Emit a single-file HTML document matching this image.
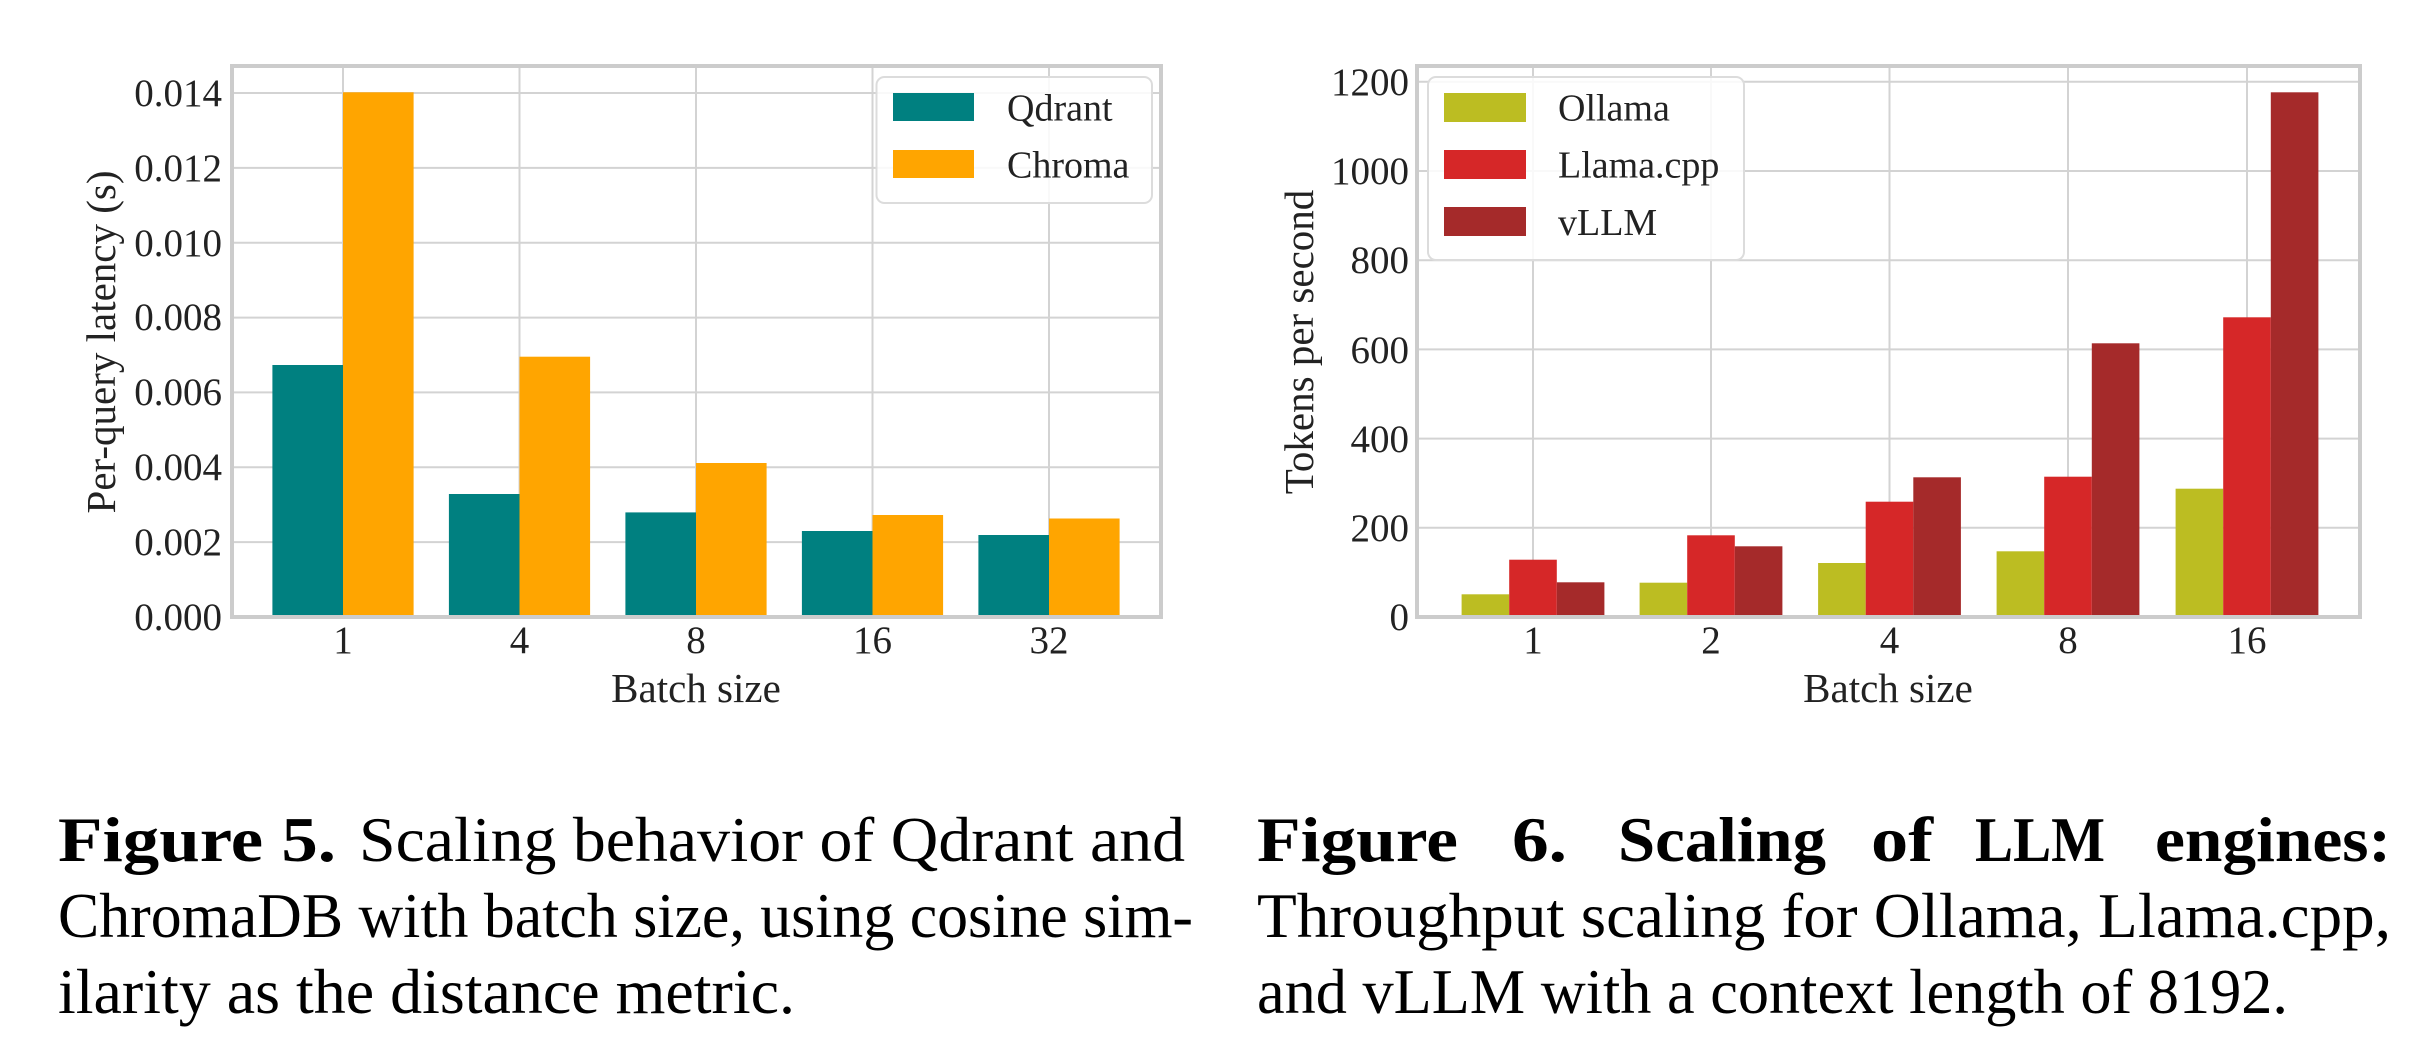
<!DOCTYPE html>
<html><head><meta charset="utf-8"><style>
html,body{margin:0;padding:0;background:#fff;}
svg{display:block;font-family:"Liberation Serif","Times New Roman",Times,serif;}
svg text{font-family:"Liberation Serif","Times New Roman",Times,serif;}
</style></head><body>
<svg width="2422" height="1057" viewBox="0 0 2422 1057" xmlns="http://www.w3.org/2000/svg" font-family="Liberation Serif, Times New Roman, serif">
<rect width="2422" height="1057" fill="#fff"/>
<!-- LEFT CHART -->
<g stroke="#d3d3d3" stroke-width="2">
<line x1="232" y1="617" x2="1161" y2="617"/>
<line x1="232" y1="542.1" x2="1161" y2="542.1"/>
<line x1="232" y1="467.3" x2="1161" y2="467.3"/>
<line x1="232" y1="392.4" x2="1161" y2="392.4"/>
<line x1="232" y1="317.6" x2="1161" y2="317.6"/>
<line x1="232" y1="242.7" x2="1161" y2="242.7"/>
<line x1="232" y1="167.9" x2="1161" y2="167.9"/>
<line x1="232" y1="93" x2="1161" y2="93"/>
<line x1="343" y1="66" x2="343" y2="617"/>
<line x1="519.5" y1="66" x2="519.5" y2="617"/>
<line x1="696" y1="66" x2="696" y2="617"/>
<line x1="872.5" y1="66" x2="872.5" y2="617"/>
<line x1="1049" y1="66" x2="1049" y2="617"/>
</g>
<g fill="#008080">
<rect x="272.4" y="365" width="70.6" height="252"/>
<rect x="448.9" y="494" width="70.6" height="123"/>
<rect x="625.4" y="512.4" width="70.6" height="104.6"/>
<rect x="801.9" y="531" width="70.6" height="86"/>
<rect x="978.4" y="535" width="70.6" height="82"/>
</g>
<g fill="#ffa500">
<rect x="343" y="92.3" width="70.6" height="524.7"/>
<rect x="519.5" y="356.7" width="70.6" height="260.3"/>
<rect x="696" y="463" width="70.6" height="154"/>
<rect x="872.5" y="515" width="70.6" height="102"/>
<rect x="1049" y="518.5" width="70.6" height="98.5"/>
</g>
<rect x="232" y="66" width="929" height="551" fill="none" stroke="#cccccc" stroke-width="4"/>
<g font-size="39" fill="#222" text-anchor="end">
<text x="222" y="630">0.000</text>
<text x="222" y="555">0.002</text>
<text x="222" y="480">0.004</text>
<text x="222" y="405">0.006</text>
<text x="222" y="330">0.008</text>
<text x="222" y="256">0.010</text>
<text x="222" y="181">0.012</text>
<text x="222" y="106">0.014</text>
</g>
<g font-size="39" fill="#222" text-anchor="middle">
<text x="343" y="653">1</text>
<text x="519.5" y="653">4</text>
<text x="696" y="653">8</text>
<text x="872.5" y="653">16</text>
<text x="1049" y="653">32</text>
<text x="696" y="702" font-size="41">Batch size</text>
<text transform="translate(115,342) rotate(-90)" font-size="41">Per-query latency (s)</text>
</g>
<rect x="876.5" y="77" width="275.5" height="126" rx="8" fill="#fff" fill-opacity="0.85" stroke="#dcdcdc" stroke-width="2"/>
<rect x="893" y="93" width="81" height="28" fill="#008080"/>
<rect x="893" y="150" width="81" height="28" fill="#ffa500"/>
<g font-size="38" fill="#222">
<text x="1007" y="120.7">Qdrant</text>
<text x="1007" y="177.7">Chroma</text>
</g>

<!-- RIGHT CHART -->
<g stroke="#d3d3d3" stroke-width="2">
<line x1="1417" y1="617" x2="2360" y2="617"/>
<line x1="1417" y1="527.8" x2="2360" y2="527.8"/>
<line x1="1417" y1="438.6" x2="2360" y2="438.6"/>
<line x1="1417" y1="349.4" x2="2360" y2="349.4"/>
<line x1="1417" y1="260.2" x2="2360" y2="260.2"/>
<line x1="1417" y1="171" x2="2360" y2="171"/>
<line x1="1417" y1="81.8" x2="2360" y2="81.8"/>
<line x1="1533" y1="66" x2="1533" y2="617"/>
<line x1="1711" y1="66" x2="1711" y2="617"/>
<line x1="1889.5" y1="66" x2="1889.5" y2="617"/>
<line x1="2068" y1="66" x2="2068" y2="617"/>
<line x1="2247" y1="66" x2="2247" y2="617"/>
</g>
<g fill="#bcbd22">
<rect x="1461.6" y="594.3" width="47.6" height="22.7"/>
<rect x="1639.6" y="582.7" width="47.6" height="34.3"/>
<rect x="1818.1" y="563" width="47.6" height="54"/>
<rect x="1996.6" y="551.3" width="47.6" height="65.7"/>
<rect x="2175.6" y="488.7" width="47.6" height="128.3"/>
</g>
<g fill="#d62728">
<rect x="1509.2" y="559.7" width="47.6" height="57.3"/>
<rect x="1687.2" y="535.3" width="47.6" height="81.7"/>
<rect x="1865.7" y="501.7" width="47.6" height="115.3"/>
<rect x="2044.2" y="476.7" width="47.6" height="140.3"/>
<rect x="2223.2" y="317.3" width="47.6" height="299.7"/>
</g>
<g fill="#a52a2a">
<rect x="1556.8" y="582.3" width="47.6" height="34.7"/>
<rect x="1734.8" y="546.3" width="47.6" height="70.7"/>
<rect x="1913.3" y="477.3" width="47.6" height="139.7"/>
<rect x="2091.8" y="343.3" width="47.6" height="273.7"/>
<rect x="2270.8" y="92.3" width="47.6" height="524.7"/>
</g>
<rect x="1417" y="66" width="943" height="551" fill="none" stroke="#cccccc" stroke-width="4"/>
<g font-size="39" fill="#222" text-anchor="end">
<text x="1409" y="630">0</text>
<text x="1409" y="541">200</text>
<text x="1409" y="452">400</text>
<text x="1409" y="363">600</text>
<text x="1409" y="273">800</text>
<text x="1409" y="184">1000</text>
<text x="1409" y="95">1200</text>
</g>
<g font-size="39" fill="#222" text-anchor="middle">
<text x="1533" y="653">1</text>
<text x="1711" y="653">2</text>
<text x="1889.5" y="653">4</text>
<text x="2068" y="653">8</text>
<text x="2247" y="653">16</text>
<text x="1888" y="702" font-size="41">Batch size</text>
<text transform="translate(1313,342) rotate(-90)" font-size="41">Tokens per second</text>
</g>
<rect x="1428" y="77" width="316" height="183" rx="8" fill="#fff" fill-opacity="0.85" stroke="#dcdcdc" stroke-width="2"/>
<rect x="1444" y="93" width="82" height="29" fill="#bcbd22"/>
<rect x="1444" y="150" width="82" height="29" fill="#d62728"/>
<rect x="1444" y="207" width="82" height="29" fill="#a52a2a"/>
<g font-size="38" fill="#222">
<text x="1558" y="120.7">Ollama</text>
<text x="1558" y="177.7">Llama.cpp</text>
<text x="1558" y="235">vLLM</text>
</g>

<!-- CAPTIONS -->
<g font-size="64" fill="#000">
<text x="58" y="861" font-weight="bold" textLength="278" lengthAdjust="spacingAndGlyphs">Figure 5.</text>
<text x="359" y="861" textLength="826" lengthAdjust="spacingAndGlyphs">Scaling behavior of Qdrant and</text>
<text x="58" y="937" textLength="1135" lengthAdjust="spacingAndGlyphs">ChromaDB with batch size, using cosine sim-</text>
<text x="58" y="1013" textLength="737" lengthAdjust="spacingAndGlyphs">ilarity as the distance metric.</text>

<g font-weight="bold">
<text x="1257" y="861" textLength="201" lengthAdjust="spacingAndGlyphs">Figure</text>
<text x="1512" y="861" textLength="55" lengthAdjust="spacingAndGlyphs">6.</text>
<text x="1618" y="861" textLength="208" lengthAdjust="spacingAndGlyphs">Scaling</text>
<text x="1871" y="861" textLength="62" lengthAdjust="spacingAndGlyphs">of</text>
<text x="1975" y="861" textLength="130" lengthAdjust="spacingAndGlyphs">LLM</text>
<text x="2155" y="861" textLength="236" lengthAdjust="spacingAndGlyphs">engines:</text>
</g>
<text x="1257" y="937" textLength="1134" lengthAdjust="spacingAndGlyphs">Throughput scaling for Ollama, Llama.cpp,</text>
<text x="1257" y="1013" textLength="1031" lengthAdjust="spacingAndGlyphs">and vLLM with a context length of 8192.</text>
</g>
</svg>
</body></html>
